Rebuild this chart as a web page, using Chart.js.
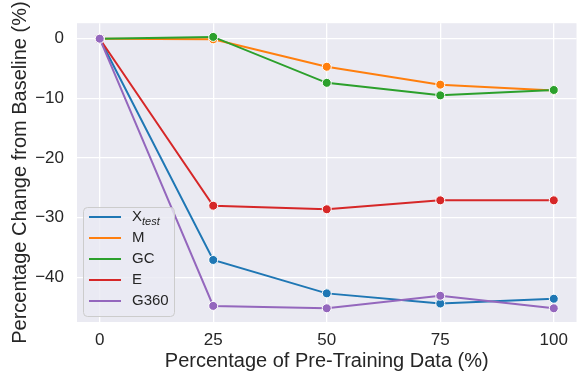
<!DOCTYPE html>
<html>
<head>
<meta charset="utf-8">
<script src="https://cdn.jsdelivr.net/npm/chart.js@4/dist/chart.umd.min.js"></script>
<style>
  html, body { margin: 0; padding: 0; background: #ffffff; }
  #wrap { width: 582px; height: 377px; }
</style>
</head>
<body>
<div id="wrap"><canvas id="chart" width="582" height="377"></canvas></div>
<script>
// Data
const pretrainPct = [0, 25, 50, 75, 100];
const xTicks = [0, 25, 50, 75, 100];
const yTicks = [0, -10, -20, -30, -40];

const seriesNames = ["X_test", "M", "GC", "E", "G360"];
const xtestVals = [0, -37.1, -42.7, -44.4, -43.6];
const mVals = [0, -0.1, -4.7, -7.7, -8.7];
const gcVals = [0, 0.3, -7.4, -9.5, -8.6];
const eVals = [0, -28.0, -28.6, -27.1, -27.1];
const g360Vals = [0, -44.8, -45.2, -43.1, -45.2];

const colors = ["#1f77b4", "#ff7f0e", "#2ca02c", "#d62728", "#9467bd"];
const FONT = "'Liberation Sans', Arial, sans-serif";

const allSeries = [xtestVals, mVals, gcVals, eVals, g360Vals];

const datasets = allSeries.map((vals, i) => ({
    label: seriesNames[i],
    data: pretrainPct.map((x, j) => ({ x: x, y: vals[j] })),
    borderColor: colors[i],
    backgroundColor: colors[i],
    borderWidth: 2,
    pointRadius: 4.5,
    pointBorderColor: "#ffffff",
    pointBorderWidth: 1,
    pointBackgroundColor: colors[i],
    tension: 0,
    order: seriesNames.length - i
}));

// grey plot background like seaborn darkgrid
const plotBg = {
    id: "plotBg",
    beforeDraw(chart) {
        const { ctx, chartArea: a } = chart;
        ctx.save();
        ctx.fillStyle = "#ffffff";
        ctx.fillRect(0, 0, chart.width, chart.height);
        ctx.fillStyle = "#eaeaf2";
        ctx.fillRect(a.left, a.top, a.right - a.left, a.bottom - a.top);
        ctx.restore();
    }
};

// legend inside the plot, lower left
const innerLegend = {
    id: "innerLegend",
    afterDatasetsDraw(chart) {
        const ctx = chart.ctx;
        const x0 = 83, y0 = 207, w = 91, h = 109;
        ctx.save();
        ctx.beginPath();
        ctx.roundRect(x0 + 0.5, y0 + 0.5, w, h, 4);
        ctx.fillStyle = "rgba(234,234,242,0.8)";
        ctx.fill();
        ctx.strokeStyle = "#cccccc";
        ctx.lineWidth = 1;
        ctx.stroke();

        chart.data.datasets.forEach((ds, i) => {
            const cy = y0 + 10 + i * 21;
            ctx.strokeStyle = ds.borderColor;
            ctx.lineWidth = 2;
            ctx.beginPath();
            ctx.moveTo(89, cy);
            ctx.lineTo(121, cy);
            ctx.stroke();

            ctx.fillStyle = "#262626";
            ctx.textBaseline = "middle";
            ctx.textAlign = "left";
            const parts = ds.label.split("_");
            ctx.font = "15px " + FONT;
            ctx.fillText(parts[0], 132, cy);
            if (parts[1]) {
                const wMain = ctx.measureText(parts[0]).width;
                ctx.font = "italic 11px " + FONT;
                ctx.fillText(parts[1], 132 + wMain, cy + 5);
            }
        });
        ctx.restore();
    }
};

const fmt = v => (v < 0 ? "\u2212" + Math.abs(v) : String(v));

new Chart(document.getElementById("chart"), {
    type: "line",
    data: { datasets: datasets },
    plugins: [plotBg, innerLegend],
    options: {
        responsive: false,
        animation: false,
        layout: { padding: { top: 23, right: 2, left: 0, bottom: 0 } },
        plugins: {
            legend: { display: false },
            tooltip: { enabled: false }
        },
        scales: {
            x: {
                type: "linear",
                min: -5,
                max: 105,
                afterBuildTicks: s => { s.ticks = xTicks.map(v => ({ value: v })); },
                afterFit: s => { s.height = 55; },
                grid: { color: "#ffffff", lineWidth: 1.3, drawTicks: false },
                border: { display: false },
                ticks: {
                    padding: 8,
                    color: "#262626",
                    font: { family: FONT, size: 17 },
                    callback: v => fmt(v)
                },
                title: {
                    display: true,
                    text: "Percentage of Pre-Training Data (%)",
                    color: "#262626",
                    font: { family: FONT, size: 20 },
                    padding: { top: 0, bottom: 4 }
                }
            },
            y: {
                min: -47.5,
                max: 2.6,
                afterBuildTicks: s => { s.ticks = yTicks.map(v => ({ value: v })); },
                afterFit: s => { s.width = 77; },
                grid: { color: "#ffffff", lineWidth: 1.3, drawTicks: false },
                border: { display: false },
                ticks: {
                    padding: 13,
                    color: "#262626",
                    font: { family: FONT, size: 17 },
                    callback: v => fmt(v)
                },
                title: {
                    display: true,
                    text: "Percentage Change from Baseline (%)",
                    color: "#262626",
                    font: { family: FONT, size: 20 },
                    padding: { top: 8, bottom: 0 }
                }
            }
        }
    }
});
</script>
</body>
</html>
